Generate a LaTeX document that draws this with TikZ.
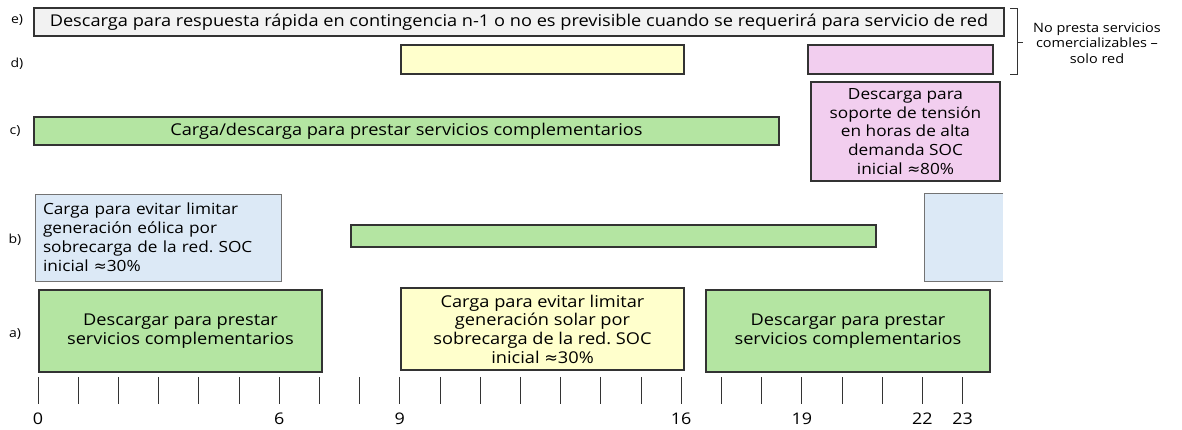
\documentclass[tikz,border=0pt]{standalone}
\usepackage{fontspec}
\setmainfont{Open Sans}[FakeStretch=1.12]
\newfontfamily\symf{DejaVu Sans}
\newcommand{\apx}{{\symf ≈}}
\definecolor{gfill}{HTML}{B4E5A2}
\definecolor{yfill}{HTML}{FFFFCC}
\definecolor{pfill}{HTML}{F2CEEF}
\definecolor{bfill}{HTML}{DCE9F6}
\definecolor{efill}{HTML}{F2F2F2}
\definecolor{edge}{HTML}{333333}
\frenchspacing
\begin{document}
\begin{tikzpicture}[x=1pt,y=-1pt,
  box/.style={draw=edge, line width=1.2pt, inner sep=0pt, align=center, font=\fontsize{16.25}{18.6}\selectfont},
  gbox/.style={box, fill=gfill},
  ybox/.style={box, fill=yfill},
  pbox/.style={box, fill=pfill},
  bbox/.style={box, fill=bfill, draw=black!55, line width=1pt},
  ebox/.style={box, fill=efill, line width=1.5pt},
  rowlab/.style={font=\fontsize{12.5}{14}\selectfont},
  ticklab/.style={font=\fontsize{16}{18}\selectfont},
  tickmark/.style={draw=black!80, line width=0.9pt}
]
\useasboundingbox (0,0) rectangle (1182,429);

% row e
\node[ebox, minimum width=970pt, minimum height=28pt] (e1) at (519,22)
  {Descarga para respuesta rápida en contingencia n-1 o no es previsible cuando se requerirá para servicio de red};
% row d
\node[ybox, minimum width=283pt, minimum height=29pt] (d1) at (542.5,59.5) {};
\node[pbox, minimum width=185pt, minimum height=29pt] (d2) at (900.5,59.5) {};
% row c
\node[gbox, minimum width=745pt, minimum height=28pt] (c1) at (406.5,131)
  {Carga/descarga para prestar servicios complementarios};
\node[pbox, minimum width=189pt, minimum height=99pt, font=\fontsize{15.4}{18.6}\selectfont] (c2) at (905.5,131.5)
  {Descarga para\\soporte de tensión\\en horas de alta\\demanda SOC\\inicial \apx80\%};
% row b
\node[bbox, minimum width=246pt, minimum height=87pt, align=left, text width=230pt,
  font=\fontsize{15.4}{19}\selectfont] (b1) at (158,237.5)
  {Carga para evitar limitar\\generación eólica por\\sobrecarga de la red. SOC\\inicial \apx30\%};
\node[gbox, minimum width=525pt, minimum height=22pt] (b2) at (613.5,236) {};
\node[fill=bfill, inner sep=0pt, minimum width=78pt, minimum height=87pt] (b3) at (964,237.5) {};
\draw[draw=black!55, line width=1pt] (b3.north east) -- (b3.north west) -- (b3.south west) -- (b3.south east);
% row a
\node[gbox, minimum width=283pt, minimum height=82pt, font=\fontsize{16.25}{19.2}\selectfont] (a1) at (180.5,331)
  {Descargar para prestar\\servicios complementarios};
\node[ybox, minimum width=283pt, minimum height=82pt] (a2) at (542.5,329)
  {Carga para evitar limitar\\generación solar por\\sobrecarga de la red. SOC\\inicial \apx30\%};
\node[gbox, minimum width=284pt, minimum height=82pt, font=\fontsize{16.25}{19.2}\selectfont] (a3) at (848,331)
  {Descargar para prestar\\servicios complementarios};

% row labels
\node[rowlab] (le) at (17,20) {e)};
\node[rowlab] (ld) at (17,64) {d)};
\node[rowlab] (lc) at (15,131) {c)};
\node[rowlab] (lb) at (15,240) {b)};
\node[rowlab] (la) at (15,334) {a)};

% bracket
\coordinate (bt) at (1017,8);
\coordinate (bb) at (1017,74);
\coordinate (bm) at (1017,42);
\draw[draw=edge, line width=1pt] ([xshift=-7pt]bt) -- (bt) -- (bb) -- ([xshift=-7pt]bb);
\draw[draw=edge, line width=1pt] (bm) -- ++(6,0) coordinate (bmr);
\node[font=\fontsize{12.9}{15.5}\selectfont, align=center] (nota) at (1097,43)
  {No presta servicios\\comercializables –\\solo red};

% time axis
\foreach \i in {0,...,23} {
  \coordinate (t\i) at ({38+40.2*\i},377);
  \draw[tickmark] (t\i) -- ++(0,27);
}
\foreach \h in {0,6,9,16,19,22,23} {
  \node[ticklab] (lab\h) at ({38+40.2*\h},419) {\h};
}
\end{tikzpicture}
\end{document}
